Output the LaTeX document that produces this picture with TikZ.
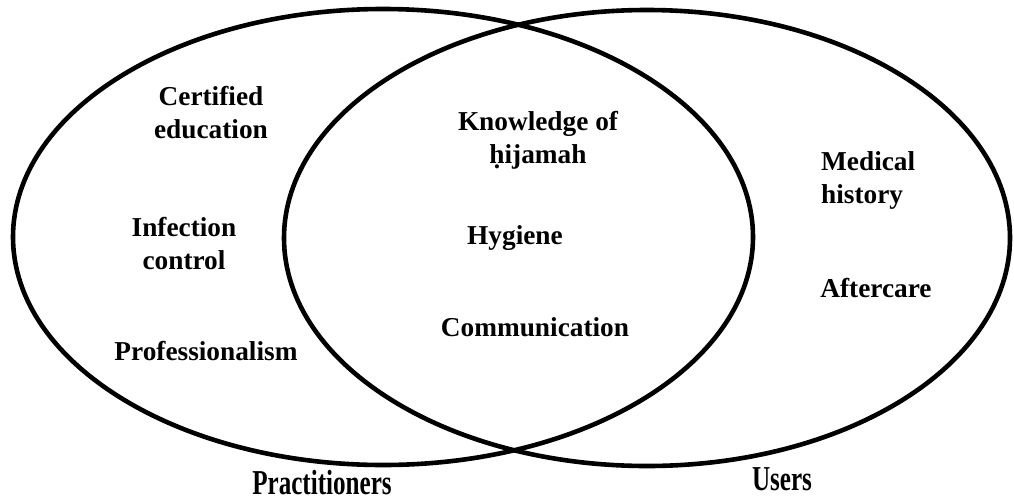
\documentclass[tikz,border=0pt]{standalone}
\usepackage{fontspec}
\usepackage{graphicx}
\setmainfont{Liberation Serif}
\begin{document}
\begin{tikzpicture}[x=1pt,y=-1pt,
  setline/.style={line width=4.6pt, draw=black},
  lbl/.style={font=\fontsize{27.3}{33}\selectfont\bfseries, inner sep=0pt, align=center},
  setname/.style={font=\fontsize{27.3}{33}\selectfont\bfseries, inner sep=0pt, anchor=base}]
\useasboundingbox (0,0) rectangle (1014,501);
\draw[setline] (383,237) ellipse [x radius=370, y radius=228];
\draw[setline] (647,238) ellipse [x radius=363, y radius=228];
\node[lbl] (cert) at (211,113) {Certified\\education};
\node[lbl] (infect) at (184,244) {Infection\\control};
\node[lbl] (prof) at (206,351) {Professionalism};
\node[lbl] (know) at (538,140) {Knowledge of\\ḥijamah};
\node[lbl] (hyg) at (515,238) {Hygiene};
\node[lbl] (comm) at (535,327) {Communication};
\node[lbl, align=left, anchor=west] (med) at (821,180) {Medical\\history};
\node[lbl] (after) at (876,288) {Aftercare};
\node[setname] (prac) at (322,494) {\scalebox{0.92}[1.28]{Practitioners}};
\node[setname] (users) at (782,490) {\scalebox{0.92}[1.28]{Users}};
\end{tikzpicture}
\end{document}
